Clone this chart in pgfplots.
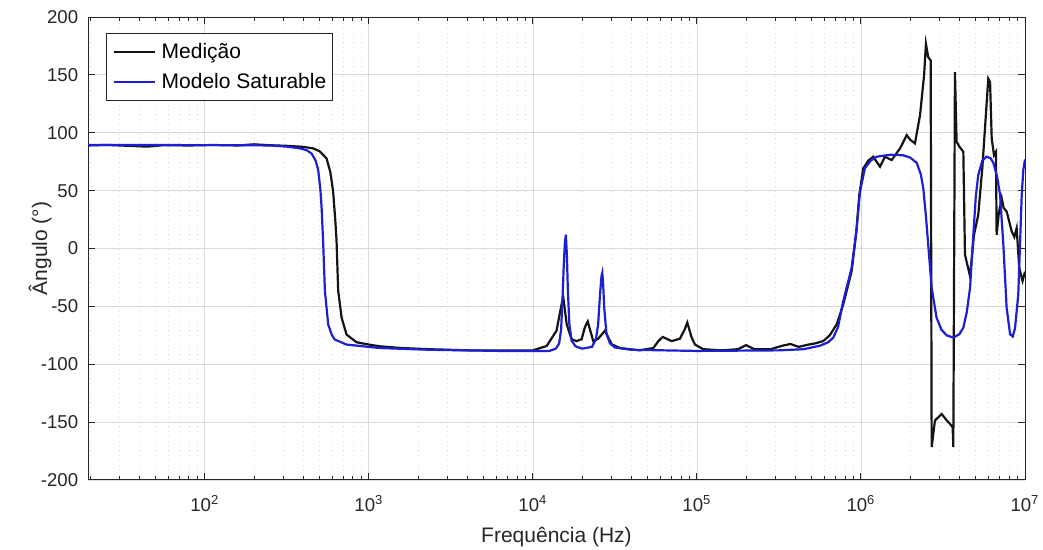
\documentclass[border=0pt]{standalone}
\usepackage{fontspec}
\setmainfont{Liberation Sans}
\usepackage{pgfplots}
\pgfplotsset{compat=1.18}
\usepackage{pgfplotstable}
\definecolor{axgray}{RGB}{38,38,38}
\definecolor{gridgray}{RGB}{218,218,218}
\definecolor{modblue}{RGB}{30,30,210}
\definecolor{medblack}{RGB}{20,20,20}

% lg = log10(frequency in Hz), v = angle in degrees
\pgfplotstableread{
lg v
1.287 89
1.4 89.5
1.55 88.6
1.65 88
1.75 89.3
1.9 89
2.05 89.4
2.2 89
2.3 90
2.4 89.2
2.5 88.7
2.6 87.8
2.66 86.5
2.70 84
2.742 77.8
2.765 66
2.782 49.4
2.795 25
2.803 6.5
2.813 -36.6
2.834 -59.8
2.864 -74.4
2.925 -81
3.0 -83
3.067 -84.5
3.2 -86
3.372 -87
3.6 -88
3.8 -88
4.0 -88
4.084 -84.2
4.144 -71
4.175 -48
4.185 -42
4.206 -65.5
4.236 -78.4
4.266 -80
4.297 -78.4
4.317 -68
4.334 -63
4.352 -72
4.368 -80
4.398 -78
4.439 -71
4.480 -82.7
4.53 -86
4.65 -88
4.734 -86
4.765 -80
4.791 -76.4
4.846 -80
4.896 -78
4.925 -70
4.941 -64
4.968 -77
4.988 -83
5.038 -87
5.15 -88
5.25 -87
5.30 -83.5
5.35 -87
5.45 -87
5.52 -84
5.57 -82.5
5.62 -85
5.68 -83
5.72 -82
5.77 -80
5.81 -75
5.852 -65.5
5.892 -48.3
5.943 -19.6
5.970 11.9
5.990 46.3
6.014 69.3
6.045 76
6.075 79.3
6.10 74
6.116 70.7
6.146 79.3
6.187 76.4
6.238 86.4
6.279 97.9
6.300 94
6.329 90.8
6.360 115.1
6.385 150
6.396 176.8
6.410 165.3
6.425 162.4
6.431 -171.6
6.451 -148.6
6.492 -143
6.520 -148
6.543 -151.6
6.559 -154.4
6.563 -171.6
6.573 152.4
6.583 92.2
6.600 88
6.624 83.6
6.634 -5.3
6.665 -23.9
6.689 11.9
6.715 29.1
6.740 70
6.756 103.6
6.776 146.7
6.787 143.8
6.797 95
6.811 80.7
6.823 83.6
6.827 11.9
6.840 30
6.858 43.4
6.870 35
6.888 32
6.919 14.8
6.935 10
6.949 17.6
6.965 -16.8
6.985 -28
7.0 -20
}\medicao

\pgfplotstableread{
lg v
1.287 89.5
1.6 89.5
1.9 89.3
2.2 89.3
2.4 89
2.5 88
2.58 86.5
2.62 85
2.651 82
2.675 76
2.691 68
2.705 50
2.712 35
2.721 6.4
2.732 -36.6
2.752 -65.6
2.775 -75
2.793 -78.7
2.864 -83
3.067 -86
3.372 -87.5
3.8 -88.5
4.1 -88.5
4.14 -86.5
4.16 -82
4.172 -70
4.180 -45
4.188 -15
4.195 5
4.201 12
4.207 -5
4.213 -35
4.222 -65
4.236 -79.6
4.26 -84.5
4.30 -86.5
4.36 -85
4.385 -78
4.398 -65
4.409 -40
4.418 -24
4.423 -21
4.428 -30
4.435 -52
4.449 -74
4.47 -82
4.50 -85.5
4.6 -87.5
5.0 -88.5
5.5 -88
5.65 -87
5.75 -84
5.80 -81
5.831 -77
5.86 -68
5.892 -45.4
5.943 -16.8
5.974 17.6
5.994 49.2
6.024 69.3
6.06 76
6.096 79.3
6.18 81
6.258 80.5
6.30 78.5
6.340 74
6.365 64
6.380 52
6.396 28
6.410 3.3
6.431 -34
6.461 -59.8
6.49 -70
6.522 -75
6.563 -77
6.60 -74
6.624 -68.4
6.645 -55
6.665 -34
6.685 11.9
6.700 45
6.715 63.5
6.740 76
6.766 79.3
6.79 78
6.807 74
6.83 62
6.848 46.3
6.868 3.3
6.888 -51.2
6.909 -74
6.925 -76
6.939 -69
6.959 -39.7
6.970 5
6.980 46.3
6.99 68
7.0 77
}\modelo

\begin{document}
\begin{tikzpicture}
\begin{axis}[
  at={(0,0)}, anchor=south west,
  scale only axis, width=468.5pt, height=231.5pt,
  xmode=log, xmin=19.4, xmax=1e7,
  ymin=-200, ymax=200,
  xtick={1e2,1e3,1e4,1e5,1e6,1e7},
  xticklabels={10\textsuperscript{2},10\textsuperscript{3},10\textsuperscript{4},10\textsuperscript{5},10\textsuperscript{6},10\textsuperscript{7}},
  minor xtick={20,30,40,50,60,70,80,90,200,300,400,500,600,700,800,900,2000,3000,4000,5000,6000,7000,8000,9000,2e4,3e4,4e4,5e4,6e4,7e4,8e4,9e4,2e5,3e5,4e5,5e5,6e5,7e5,8e5,9e5,2e6,3e6,4e6,5e6,6e6,7e6,8e6,9e6},
  ytick={-200,-150,-100,-50,0,50,100,150,200},
  /pgf/number format/assume math mode=true,
  tick align=inside,
  major tick length=3.5pt, minor tick length=2pt,
  xmajorgrids, xminorgrids, ymajorgrids,
  major grid style={gridgray, line width=0.4pt},
  minor grid style={gridgray, dotted, line width=0.4pt},
  axis line style={axgray, line width=0.5pt},
  every tick/.style={axgray, line width=0.5pt},
  tick label style={font=\fontsize{9.3}{11}\selectfont, text=axgray},
  xticklabel style={yshift=-4pt},
  yticklabel style={xshift=-1.4pt},
  xlabel={Frequência (Hz)},
  ylabel={Ângulo (°)},
  label style={font=\fontsize{10.5}{12}\selectfont, text=axgray},
  xlabel style={at={(axis description cs:0.5,-0.123)}, anchor=center},
  ylabel style={at={(axis description cs:-0.0512,0.5)}, anchor=center, rotate=0},
  legend cell align=left,
  legend image code/.code={\draw[#1] (0pt,0pt) -- (20.5pt,0pt);},
  legend style={at={(axis description cs:0.0192,0.9654)}, anchor=north west,
    draw=axgray, fill=white, line width=0.5pt,
    font=\fontsize{10.5}{12}\selectfont, text=black,
    inner xsep=3pt, inner ysep=1.75pt,
    nodes={inner xsep=0pt, inner ysep=1pt, text height=9.5pt, text depth=3.5pt},
    /tikz/every odd column/.append style={column sep=3pt}},
]
\addplot[medblack, line width=1.1pt] table[x expr={10^(\thisrow{lg})}, y=v] {\medicao};
\addlegendentry{Medição}
\addplot[modblue, line width=1.1pt] table[x expr={10^(\thisrow{lg})}, y=v] {\modelo};
\addlegendentry{Modelo Saturable}
\end{axis}
\pgfresetboundingbox
\useasboundingbox (-44pt,-35pt) rectangle (477.5pt,240pt);
\end{tikzpicture}
\end{document}
